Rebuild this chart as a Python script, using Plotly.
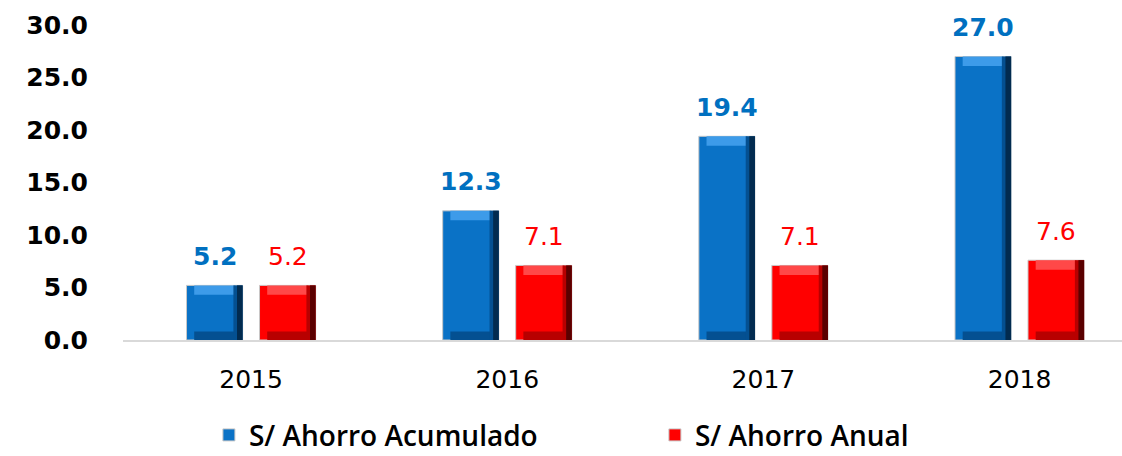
import plotly.graph_objects as go

# Savings per year (millions of soles)
years = ["2015", "2016", "2017", "2018"]
acumulado = [5.2, 12.3, 19.4, 27.0]
anual = [5.2, 7.1, 7.1, 7.6]

series = [
    # name, values, offset, base colour, light, dark, darkest, label colour, label weight
    ("S/ Ahorro Acumulado", acumulado, -0.252, "#0A72C6", "#3D9BE9", "#045091", "#022B4F", "#0070C0", "bold"),
    ("S/ Ahorro Anual", anual, 0.033, "#FF0000", "#FF4848", "#B80000", "#5A0000", "#FF0000", "normal"),
]
BAR_W = 0.219
X = list(range(len(years)))

fig = go.Figure()

for name, vals, off, base, light, dark, darkest, lab_col, lab_w in series:
    # main body of the bar
    fig.add_trace(go.Bar(
        x=X, y=vals, name=name, offset=off, width=BAR_W,
        marker=dict(color=base, line=dict(color="#C8C8C8", width=1)),
        showlegend=True, hoverinfo="skip",
    ))
    # bevel: light top band
    band = 0.9
    fig.add_trace(go.Bar(
        x=X, y=[band] * len(vals), base=[v - band for v in vals],
        offset=off + 0.03, width=BAR_W - 0.06,
        marker=dict(color=light, line=dict(width=0)),
        showlegend=False, hoverinfo="skip",
    ))
    # bevel: dark bottom band
    fig.add_trace(go.Bar(
        x=X, y=[0.8] * len(vals), base=[0] * len(vals),
        offset=off + 0.03, width=BAR_W - 0.06,
        marker=dict(color=dark, line=dict(width=0)),
        showlegend=False, hoverinfo="skip",
    ))
    # bevel: right side shading, darkening toward the edge
    for frac, col in [(0.036, dark), (0.022, darkest)]:
        fig.add_trace(go.Bar(
            x=X, y=vals, offset=off + BAR_W - frac, width=frac,
            marker=dict(color=col, line=dict(width=0)),
            showlegend=False, hoverinfo="skip",
        ))
    # value labels above each bar
    for xi, v in zip(X, vals):
        fig.add_annotation(
            x=xi + off + BAR_W / 2, y=v, text=f"{v:.1f}",
            showarrow=False, yanchor="middle", yshift=29,
            font=dict(family="DejaVu Sans", size=25, color=lab_col, weight=lab_w),
        )

fig.update_layout(
    width=1122, height=456,
    margin=dict(l=123, r=0, t=0, b=116, autoexpand=False),
    barmode="overlay",
    plot_bgcolor="white", paper_bgcolor="white",
    showlegend=True,
    legend=dict(
        orientation="h", x=0.086, xanchor="left", y=-0.28, yanchor="middle",
        font=dict(family="Open Sans", size=28, color="#000000", weight=600),
        entrywidth=401, entrywidthmode="pixels", itemwidth=30,
        itemclick=False, itemdoubleclick=False,
    ),
    xaxis=dict(
        range=[-0.5, 3.4],
        tickvals=X, ticktext=years,
        showgrid=False, zeroline=False,
        showline=True, linecolor="#D9D9D9", linewidth=2,
        ticks="", ticklabelstandoff=16,
        tickfont=dict(family="DejaVu Sans", size=25, color="#000000"),
    ),
    yaxis=dict(
        range=[0, 340 / 10.5],
        tickvals=[0, 5, 10, 15, 20, 25, 30],
        ticktext=["0.0", "5.0", "10.0", "15.0", "20.0", "25.0", "30.0"],
        showgrid=False, zeroline=False, showline=False,
        ticks="", ticklabelstandoff=34,
        tickfont=dict(family="DejaVu Sans", size=25, color="#000000", weight="bold"),
    ),
)

fig.write_html("out.html")
